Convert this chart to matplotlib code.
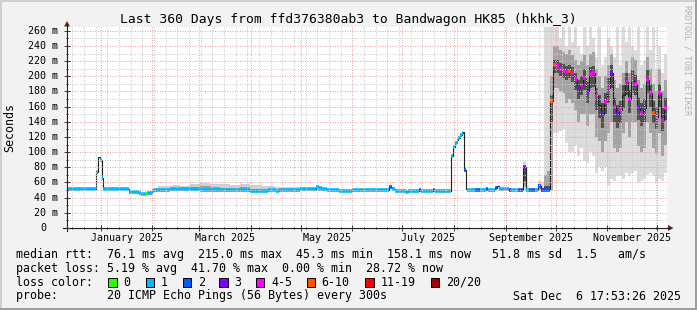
import datetime as dt
import numpy as np
import matplotlib
matplotlib.use('Agg')
import matplotlib.pyplot as plt
from matplotlib.patches import Rectangle, Polygon
from matplotlib.lines import Line2D

plt.rcParams['font.family'] = ['DejaVu Sans Mono']

W, H = 697, 310
START = dt.datetime(2024, 12, 11, 17, 53, 26)
SPAN = 360  # days shown

TITLE = 'Last 360 Days from ffd376380ab3 to Bandwagon HK85 (hkhk_3)'
loss_labels = ['0', '1', '2', '3', '4-5', '6-10', '11-19', '20/20']
loss_colors = ['#26ff00', '#00b8ff', '#0059ff', '#7e00ff',
               '#ff00ff', '#ff5500', '#ff0000', '#a10000']

# median rtt in ms, step starts in days since START, loss colour index (-1 = none)
calm_day = [0, 4.8, 17.4, 18.3, 19.5, 20.7, 21.6, 37.2, 43.2, 44.4, 46.5, 48.0,
            51.0, 52.2, 59.4, 61.8, 79.8, 109.8, 120.6, 125.4, 127.2, 139.8,
            149.4, 151.2, 153.0, 156.0, 163.2, 171.0, 193.2, 195.0, 196.8,
            203.4, 204.6, 211.2, 212.4, 219.6, 220.8, 230.4, 231.3, 232.5,
            233.7, 234.6, 235.8, 236.7, 237.6, 238.2, 239.1, 240.0, 244.8,
            247.8, 251.4, 252.6, 256.8, 258.0, 259.2, 265.2, 266.4, 270.6]
calm_med = [51.5, 52, 73.5, 94, 90, 66, 51, 48, 46.5, 45, 45, 45.5,
            48.5, 50.5, 49.5, 51, 50.5, 48.5, 50, 48.5, 50, 51,
            54.5, 53, 51, 50, 48.5, 50.5, 54, 51, 49,
            48, 49, 49.5, 49, 49.5, 49, 95, 107, 112,
            116, 119, 122.5, 125, 126, 77, 51, 49.5, 50.5,
            49.5, 52, 49.5, 53, 56, 51, 50, 49.5, 50]
calm_loss = [1, 1, 1, -1, 1, 1, 1, 1, 1, 1, 0, 1,
             1, 1, 1, 1, 1, 1, 1, 1, 1, 1,
             1, 1, 1, 1, 1, 1, 2, 1, 1,
             1, 1, 2, 1, 2, 1, 1, 1, 1,
             1, 1, 1, 1, -1, 2, -1, 1, 2,
             1, 2, 1, 2, -1, 1, 3, 1, 2]

# light smoke over the quiet spring months
calm_smoke_day = [51.6, 54.6, 58.8, 63.0, 67.8, 73.8, 79.8, 85.8, 91.8, 97.8,
                  103.8, 109.8, 117.0, 124.8, 133.8, 142.8, 151.8, 156.6]
calm_smoke_lo = [49, 49, 49, 49, 49, 49, 49, 49, 49, 49, 49, 49, 49, 49, 49, 49, 49]
calm_smoke_hi = [53, 56, 55, 57, 56, 58, 59, 58, 58, 57, 58, 57, 55, 54, 54, 53, 53]
calm_smoke_core = [50, 52, 52, 53, 53, 54, 55, 54, 53, 53, 54, 52, 51, 50, 50, 50, 50]

# last ~88 days, one sample every 1.8 days
vol_start, vol_step = 271.8, 1.8
vol_med = [50, 80, 50, 50, 50.5, 50, 56, 50, 50, 50,
           168, 215, 213, 210, 207, 206, 207, 204, 196, 185,
           188, 198, 180, 203, 204, 174, 162, 150, 166, 184,
           205, 160, 150, 155, 175, 193, 170, 195, 190, 160,
           152, 158, 195, 178, 152, 146, 178, 143, 158]
vol_loss = [2, 3, 1, 2, 2, 1, 2, 3, 2, 2,
            5, 5, 4, 4, 4, 4, 5, 4, 4, 3,
            4, 4, 3, 4, 4, 4, -1, 3, 4, 4,
            3, 4, 3, 4, -1, 4, 4, 4, 4, 3,
            4, 3, 4, 4, 5, 4, 4, 4, 4]
vol_light_lo = [50, 50, 50, 50, 50, 50, 50, 50, 50, 50,
                50, 125, 125, 128, 130, 112, 100, 100, 110, 95,
                105, 88, 86, 100, 95, 72, 80, 75, 80, 57,
                65, 62, 68, 70, 65, 72, 68, 72, 75, 59,
                62, 64, 70, 72, 68, 61, 64, 62, 72]
vol_light_hi = [50, 88, 56, 52, 53, 52, 62, 60, 265, 265,
                265, 265, 265, 250, 265, 240, 265, 245, 265, 240,
                230, 265, 240, 265, 250, 225, 265, 215, 225, 250,
                240, 225, 265, 215, 265, 245, 265, 240, 235, 265,
                215, 220, 265, 235, 265, 210, 240, 205, 230]
vol_mid_lo = [50, 55, 50, 50, 50, 50, 51, 50, 50, 50,
              50, 185, 185, 180, 178, 165, 170, 165, 155, 140,
              150, 150, 135, 150, 150, 120, 115, 100, 115, 125,
              140, 105, 100, 105, 125, 140, 120, 140, 140, 108,
              100, 105, 140, 125, 105, 98, 125, 95, 110]
vol_mid_hi = [50, 82, 52, 50, 51, 50, 58, 53, 70, 75,
              200, 240, 240, 235, 232, 230, 235, 228, 222, 215,
              220, 228, 215, 230, 232, 210, 200, 185, 200, 215,
              230, 195, 185, 190, 205, 220, 205, 225, 222, 195,
              185, 190, 225, 210, 190, 180, 210, 180, 195]
vol_dark_lo = [50, 62, 50, 50, 50, 50, 52, 50, 50, 50,
               140, 205, 204, 200, 198, 195, 198, 193, 182, 170,
               175, 182, 165, 185, 186, 155, 145, 132, 150, 165,
               185, 140, 132, 138, 158, 175, 152, 178, 175, 142,
               135, 140, 178, 160, 138, 130, 160, 128, 142]
vol_dark_hi = [50, 78, 50, 50, 50, 50, 56, 50, 55, 56,
               175, 222, 222, 218, 216, 214, 215, 212, 205, 195,
               200, 210, 192, 212, 214, 185, 175, 165, 178, 198,
               215, 172, 162, 168, 188, 205, 182, 208, 202, 172,
               165, 170, 208, 190, 168, 160, 190, 158, 172]

legend_rtt = 'median rtt:  76.1 ms avg  215.0 ms max  45.3 ms min  158.1 ms now   51.8 ms sd  1.5   am/s'
legend_loss = 'packet loss: 5.19 % avg  41.70 % max  0.00 % min  28.72 % now'
legend_probe = 'probe:       20 ICMP Echo Pings (56 Bytes) every 300s'
stamp = 'Sat Dec  6 17:53:26 2025'


def fx(x):
    return x / W


def fy(y):
    return 1 - y / H


def days(t):
    return (t - START).total_seconds() / 86400


fig = plt.figure(figsize=(W / 100, H / 100), dpi=100, facecolor='#f2f2f2')
# bevelled border
fig.add_artist(Rectangle((0, 1 - 2 / H), 1, 2 / H, color='#cfcfcf', lw=0))
fig.add_artist(Rectangle((0, 0), 2 / W, 1, color='#cfcfcf', lw=0))
fig.add_artist(Rectangle((0, 0), 1, 2 / H, color='#9e9e9e', lw=0))
fig.add_artist(Rectangle((1 - 2 / W, 0), 2 / W, 1, color='#9e9e9e', lw=0))

ax = fig.add_axes([fx(67), fy(228), 600 / W, 201 / H])
ax.set_facecolor('white')
ax.set_xlim(0, SPAN)
ax.set_ylim(0, 265)
for s in ax.spines.values():
    s.set_visible(False)

# smoke
cs_edges = np.array(calm_smoke_day)
ax.stairs(calm_smoke_hi, cs_edges, baseline=calm_smoke_lo, fill=True, color='#d0d0d0', lw=0, zorder=1)
ax.stairs(calm_smoke_core, cs_edges, baseline=calm_smoke_lo, fill=True, color='#9c9c9c', lw=0, zorder=1.1)

vol_day = vol_start + vol_step * np.arange(len(vol_med))
vol_edges = np.append(vol_day, SPAN)
ax.stairs(vol_light_hi, vol_edges, baseline=vol_light_lo, fill=True, color='#dcdcdc', lw=0, zorder=1)
ax.stairs(vol_mid_hi, vol_edges, baseline=vol_mid_lo, fill=True, color='#a3a3a3', lw=0, zorder=1.1)
ax.stairs(vol_dark_hi, vol_edges, baseline=vol_dark_lo, fill=True, color='#505050', lw=0, zorder=1.2)

# median line + loss colour marks
edges = np.concatenate([calm_day, vol_edges])
med = np.array(calm_med + vol_med, dtype=float)
loss = np.array(calm_loss + vol_loss)
ax.stairs(med, edges, baseline=None, color='#202020', lw=0.8, zorder=2.1)
m = loss >= 0
ax.hlines(med[m], edges[:-1][m], edges[1:][m],
          colors=[loss_colors[i] for i in loss[m]], lw=2.6, zorder=2.2)

# grid
months = [days(dt.datetime(2025, k, 1)) for k in range(1, 13)]
first_sunday = dt.datetime(2024, 12, 15)
weeks = [days(first_sunday + dt.timedelta(weeks=k)) for k in range(52)]
weeks = [w for w in weeks if w < SPAN]
ax.set_xticks(months)
ax.set_xticks(weeks, minor=True)
ax.set_yticks(range(0, 261, 20))
ax.set_yticks(range(10, 261, 20), minor=True)
ax.tick_params(which='both', direction='inout', color='#1f1f1f',
               labelleft=False, labelbottom=False)
ax.tick_params(which='major', length=4, width=0.6)
ax.tick_params(which='minor', length=2, width=0.6)
ax.set_axisbelow(False)
ax.grid(which='major', color='#eea0a0', linestyle=(0, (1, 1.5)), linewidth=0.72)
ax.grid(which='minor', color='#c8c8c8', linestyle=(0, (1, 1.5)), linewidth=0.72)

# axis lines and arrows
fig.add_artist(Line2D([fx(67), fx(67)], [fy(231), fy(24)], color='#1f1f1f', lw=0.8))
fig.add_artist(Line2D([fx(63), fx(670)], [fy(228), fy(228)], color='#1f1f1f', lw=0.8))
fig.add_artist(Polygon([[fx(64), fy(26.5)], [fx(70), fy(26.5)], [fx(67), fy(21)]], color='#801f1f', lw=0))
fig.add_artist(Polygon([[fx(668), fy(225)], [fx(668), fy(231)], [fx(673.5), fy(228)]], color='#801f1f', lw=0))

# y labels
for v in range(0, 261, 20):
    if v == 0:
        ax.text(-20.5 / 600, v, '0', transform=ax.get_yaxis_transform(),
                ha='right', va='center', fontsize=7.2)
    else:
        ax.text(-8.5 / 600, v, f'{v} m', transform=ax.get_yaxis_transform(),
                ha='right', va='center', fontsize=7.2)

# month labels, centred in their month
for k in (1, 3, 5, 7, 9, 11):
    a = days(dt.datetime(2025, k, 1))
    b = days(dt.datetime(2025, k + 1, 1))
    name = dt.datetime(2025, k, 1).strftime('%B %Y')
    ax.text((a + b) / 2, -9.7 / 201, name, transform=ax.get_xaxis_transform(),
            ha='center', va='center', fontsize=7.2)

fig.text(0.5, fy(19), TITLE, ha='center', va='center', fontsize=9.4)
fig.text(fx(10), fy(127.5), 'Seconds', rotation=90, ha='center', va='center', fontsize=8.4)
fig.text(fx(687), fy(5), 'RRDTOOL / TOBI OETIKER', rotation=270, ha='center', va='top',
         fontsize=6, color='#b4b4b4')

# legend
fig.text(fx(16), fy(254.3), legend_rtt, ha='left', va='center', fontsize=8.4)
fig.text(fx(16), fy(268.3), legend_loss, ha='left', va='center', fontsize=8.4)
fig.text(fx(16), fy(282.3), 'loss color:', ha='left', va='center', fontsize=8.4)
box_x = [108.3, 145.7, 182.7, 219.3, 256, 306.7, 365.3, 430.7]
for bx, lab, col in zip(box_x, loss_labels, loss_colors):
    fig.add_artist(Rectangle((fx(bx), fy(286.7)), 8.4 / W, 9 / H, facecolor=col,
                             edgecolor='black', lw=0.7))
    fig.text(fx(bx + 15), fy(282.3), lab, ha='left', va='center', fontsize=8.4)
fig.text(fx(16), fy(296), legend_probe, ha='left', va='center', fontsize=8.4)
fig.text(fx(513.3), fy(296), stamp, ha='left', va='center', fontsize=8.4)

fig.savefig('out.png', dpi=100, facecolor=fig.get_facecolor())
